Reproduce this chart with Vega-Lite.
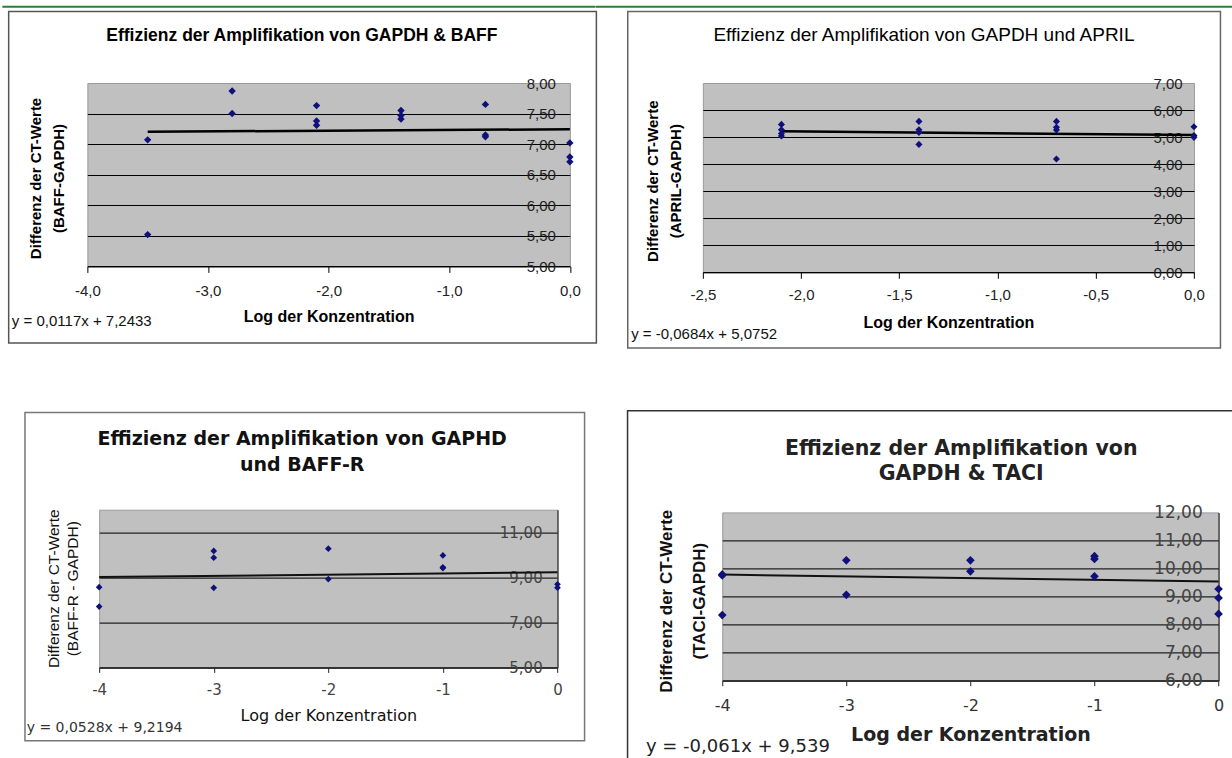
{
  "$schema": "https://vega.github.io/schema/vega-lite/v6.json",
  "padding": {"left": 0, "top": 5, "right": 0, "bottom": 0},
  "background": "white",
  "config": {"font": "Liberation Sans", "view": {"stroke": null}},
  "spacing": -4.6,
  "hconcat": [
    {
      "spacing": 65.7,
      "center": true,
      "vconcat": [
        {
          "width": 482.5, "height": 183.4,
          "view": {"fill": "#c0c0c0", "stroke": "#9a9a9a"},
          "title": {"text": "Effizienz der Amplifikation von GAPDH & BAFF", "font": "Liberation Sans", "fontSize": 17.5, "fontWeight": "bold", "color": "#000000", "anchor": "middle", "frame": "group", "dx": -26.75, "offset": -39.1},
          "layer": [
            {
              "data": {"values": [{"frame": 1}]},
              "mark": {"type": "rect", "fill": "transparent", "stroke": "#555555", "strokeWidth": 1.5},
              "encoding": {
                "x": {"datum": -4.6524, "type": "quantitative", "scale": {"domain": [-4, 0], "nice": false, "zero": false}},
                "x2": {"datum": 0.2197},
                "y": {"datum": 9.1712, "type": "quantitative", "scale": {"domain": [5, 8], "nice": false, "zero": false}},
                "y2": {"datum": 3.747}
              }
            },
            {
              "data": {"values": [{"frame": 1}]},
              "mark": {"type": "rule", "color": "#2e7d32", "strokeWidth": 2},
              "encoding": {
                "x": {"datum": -4.7047, "type": "quantitative", "scale": {"domain": [-4, 0], "nice": false, "zero": false}},
                "x2": {"datum": 0.2093},
                "y": {"datum": 9.2481, "type": "quantitative", "scale": {"domain": [5, 8], "nice": false, "zero": false}}
              }
            },
            {
              "data": {"values": [{"x": -3.5, "y": 7.2024}, {"x": 0, "y": 7.2433}]},
              "mark": {"type": "line", "color": "#000000", "strokeWidth": 2.5},
              "encoding": {
                "x": {"field": "x", "type": "quantitative", "scale": {"domain": [-4, 0], "nice": false, "zero": false}},
                "y": {"field": "y", "type": "quantitative", "scale": {"domain": [5, 8], "nice": false, "zero": false}}
              }
            },
            {
              "data": {"values": [
                {"x": -3.5, "y": 7.07}, {"x": -3.5, "y": 5.52},
                {"x": -2.8, "y": 7.87}, {"x": -2.8, "y": 7.5},
                {"x": -2.1, "y": 7.63}, {"x": -2.1, "y": 7.38}, {"x": -2.1, "y": 7.31},
                {"x": -1.4, "y": 7.55}, {"x": -1.4, "y": 7.47}, {"x": -1.4, "y": 7.41},
                {"x": -0.7, "y": 7.65}, {"x": -0.7, "y": 7.15}, {"x": -0.7, "y": 7.12},
                {"x": 0, "y": 7.02}, {"x": 0, "y": 6.79}, {"x": 0, "y": 6.71}
              ]},
              "mark": {"type": "point", "shape": "diamond", "filled": true, "color": "#10107a", "size": 55, "opacity": 1},
              "encoding": {
                "x": {"field": "x", "type": "quantitative", "scale": {"domain": [-4, 0], "nice": false, "zero": false},
                  "axis": {"orient": "bottom", "values": [-4, -3, -2, -1, 0], "tickCount": 100, "grid": false, "domain": true, "domainColor": "#000000", "domainWidth": 1, "ticks": true, "tickColor": "#000000", "tickSize": 6, "labelPadding": 10.8, "labelFlush": false, "labelOverlap": false, "labelFont": "Liberation Sans", "labelFontSize": 15, "labelColor": "#222222", "labelExpr": "(datum.value < 0 ? '-' : '') + replace(format(abs(datum.value), '.1f'), '.', ',')", "title": "Log der Konzentration", "titleFont": "Liberation Sans", "titleFontSize": 16, "titleFontWeight": "bold", "titleColor": "#000000", "titleY": 42.1, "titleBaseline": "top"}},
                "y": {"field": "y", "type": "quantitative", "scale": {"domain": [5, 8], "nice": false, "zero": false},
                  "axis": {"orient": "right", "values": [5, 5.5, 6, 6.5, 7, 7.5, 8], "tickCount": 100, "grid": true, "gridColor": "#000000", "gridWidth": 1.2, "gridOpacity": {"condition": {"test": "datum.value >= 8", "value": 0}, "value": 1}, "domain": false, "ticks": false, "tickSize": 0, "labelAlign": "right", "labelPadding": -14.5, "labelOverlap": false, "labelFont": "Liberation Sans", "labelFontSize": 15, "labelColor": "#222222", "labelExpr": "replace(format(datum.value, '.2f'), '.', ',')", "title": ["Differenz der CT-Werte", "(BAFF-GAPDH)"], "titleFont": "Liberation Sans", "titleFontSize": 15, "titleFontWeight": "bold", "titleColor": "#000000", "titleAngle": -90, "titleX": -529, "titleY": 95, "titleAlign": "center", "titleBaseline": "alphabetic", "titleLineHeight": 23}}
              }
            },
            {
              "data": {"values": [{"eq": "y = 0,0117x + 7,2433"}]},
              "mark": {"type": "text", "align": "left", "baseline": "middle", "font": "Liberation Sans", "fontSize": 15, "color": "#111111"},
              "encoding": {
                "x": {"datum": -4.626, "type": "quantitative", "scale": {"domain": [-4, 0], "nice": false, "zero": false}},
                "y": {"datum": 4.1, "type": "quantitative", "scale": {"domain": [5, 8], "nice": false, "zero": false}},
                "text": {"field": "eq"}
              }
            }
          ]
        },
        {
          "width": 458.3, "height": 157.7,
          "view": {"fill": "#c0c0c0", "stroke": "#9a9a9a"},
          "title": {"text": ["Effizienz der Amplifikation von GAPHD", "und BAFF-R"], "font": "DejaVu Sans", "fontSize": 19, "fontWeight": "bold", "color": "#111111", "anchor": "middle", "frame": "group", "dx": -26.1, "lineHeight": 26.7, "offset": -63.6},
          "layer": [
            {
              "data": {"values": [{"frame": 1}]},
              "mark": {"type": "rect", "fill": "transparent", "stroke": "#777777", "strokeWidth": 1.5},
              "encoding": {
                "x": {"datum": -4.6476, "type": "quantitative", "scale": {"domain": [-4, 0], "nice": false, "zero": false}},
                "x2": {"datum": 0.2365},
                "y": {"datum": 16.319, "type": "quantitative", "scale": {"domain": [5, 12], "nice": false, "zero": false}},
                "y2": {"datum": 1.7464}
              }
            },
            {
              "data": {"values": [{"x": -4, "y": 9.0082}, {"x": 0, "y": 9.2194}]},
              "mark": {"type": "line", "color": "#111111", "strokeWidth": 2},
              "encoding": {
                "x": {"field": "x", "type": "quantitative", "scale": {"domain": [-4, 0], "nice": false, "zero": false}},
                "y": {"field": "y", "type": "quantitative", "scale": {"domain": [5, 12], "nice": false, "zero": false}}
              }
            },
            {
              "data": {"values": [
                {"x": -4, "y": 8.56}, {"x": -4, "y": 7.7},
                {"x": -3, "y": 10.17}, {"x": -3, "y": 9.87}, {"x": -3, "y": 8.53},
                {"x": -2, "y": 10.27}, {"x": -2, "y": 8.92},
                {"x": -1, "y": 9.97}, {"x": -1, "y": 9.44}, {"x": -1, "y": 9.41},
                {"x": 0, "y": 8.69}, {"x": 0, "y": 8.54}
              ]},
              "mark": {"type": "point", "shape": "diamond", "filled": true, "color": "#10107a", "size": 45, "opacity": 1},
              "encoding": {
                "x": {"field": "x", "type": "quantitative", "scale": {"domain": [-4, 0], "nice": false, "zero": false},
                  "axis": {"orient": "bottom", "values": [-4, -3, -2, -1, 0], "tickCount": 100, "grid": false, "domain": true, "domainColor": "#222222", "domainWidth": 1.2, "ticks": true, "tickColor": "#222222", "tickSize": 5, "labelPadding": 10.2, "labelFlush": false, "labelOverlap": false, "labelFont": "DejaVu Sans", "labelFontSize": 15, "labelColor": "#444444", "labelExpr": "(datum.value < 0 ? '-' : '') + format(abs(datum.value), 'd')", "title": "Log der Konzentration", "titleFont": "DejaVu Sans", "titleFontSize": 16, "titleFontWeight": "normal", "titleColor": "#111111", "titleY": 40.5, "titleBaseline": "top"}},
                "y": {"field": "y", "type": "quantitative", "scale": {"domain": [5, 12], "nice": false, "zero": false},
                  "axis": {"orient": "right", "values": [5, 7, 9, 11], "tickCount": 100, "grid": true, "gridColor": "#222222", "gridWidth": 1.2, "domain": true, "domainColor": "#333333", "domainWidth": 1.2, "ticks": false, "tickSize": 0, "labelAlign": "right", "labelPadding": -15.3, "labelOverlap": false, "labelFont": "DejaVu Sans", "labelFontSize": 15, "labelColor": "#444444", "labelExpr": "replace(format(datum.value, '.2f'), '.', ',')", "title": ["Differenz der CT-Werte", "(BAFF-R - GAPDH)"], "titleFont": "Liberation Sans", "titleFontSize": 15.5, "titleFontWeight": "normal", "titleColor": "#111111", "titleAngle": -90, "titleX": -499.4, "titleY": 78.5, "titleAlign": "center", "titleBaseline": "alphabetic", "titleLineHeight": 19}}
              }
            },
            {
              "data": {"values": [{"eq": "y = 0,0528x + 9,2194"}]},
              "mark": {"type": "text", "align": "left", "baseline": "middle", "font": "DejaVu Sans", "fontSize": 14, "color": "#333333"},
              "encoding": {
                "x": {"datum": -4.6328, "type": "quantitative", "scale": {"domain": [-4, 0], "nice": false, "zero": false}},
                "y": {"datum": 2.31, "type": "quantitative", "scale": {"domain": [5, 12], "nice": false, "zero": false}},
                "text": {"field": "eq"}
              }
            }
          ]
        }
      ]
    },
    {
      "spacing": 59.4,
      "center": true,
      "vconcat": [
        {
          "width": 491.1, "height": 189.3,
          "view": {"fill": "#c0c0c0", "stroke": "#9a9a9a"},
          "title": {"text": "Effizienz der Amplifikation von GAPDH und APRIL", "font": "Liberation Sans", "fontSize": 19, "fontWeight": "normal", "color": "#000000", "anchor": "middle", "frame": "group", "dx": -24.45, "offset": -39},
          "layer": [
            {
              "data": {"values": [{"frame": 1}]},
              "mark": {"type": "rect", "fill": "transparent", "stroke": "#666666", "strokeWidth": 1.5},
              "encoding": {
                "x": {"datum": -2.8823, "type": "quantitative", "scale": {"domain": [-2.5, 0], "nice": false, "zero": false}},
                "x2": {"datum": 0.1349},
                "y": {"datum": 9.6476, "type": "quantitative", "scale": {"domain": [0, 7], "nice": false, "zero": false}},
                "y2": {"datum": -2.7992}
              }
            },
            {
              "data": {"values": [{"frame": 1}]},
              "mark": {"type": "rule", "color": "#2e7d32", "strokeWidth": 2},
              "encoding": {
                "x": {"datum": -3.0467, "type": "quantitative", "scale": {"domain": [-2.5, 0], "nice": false, "zero": false}},
                "x2": {"datum": 0.3996},
                "y": {"datum": 9.8214, "type": "quantitative", "scale": {"domain": [0, 7], "nice": false, "zero": false}}
              }
            },
            {
              "data": {"values": [{"x": -2.1, "y": 5.2188}, {"x": 0, "y": 5.0752}]},
              "mark": {"type": "line", "color": "#000000", "strokeWidth": 2.5},
              "encoding": {
                "x": {"field": "x", "type": "quantitative", "scale": {"domain": [-2.5, 0], "nice": false, "zero": false}},
                "y": {"field": "y", "type": "quantitative", "scale": {"domain": [0, 7], "nice": false, "zero": false}}
              }
            },
            {
              "data": {"values": [
                {"x": -2.1, "y": 5.47}, {"x": -2.1, "y": 5.27}, {"x": -2.1, "y": 5.13}, {"x": -2.1, "y": 5.04},
                {"x": -1.4, "y": 5.58}, {"x": -1.4, "y": 5.27}, {"x": -1.4, "y": 5.17}, {"x": -1.4, "y": 4.73},
                {"x": -0.7, "y": 5.58}, {"x": -0.7, "y": 5.36}, {"x": -0.7, "y": 5.26}, {"x": -0.7, "y": 4.19},
                {"x": 0, "y": 5.38}, {"x": 0, "y": 5.06}, {"x": 0, "y": 4.99}
              ]},
              "mark": {"type": "point", "shape": "diamond", "filled": true, "color": "#10107a", "size": 50, "opacity": 1},
              "encoding": {
                "x": {"field": "x", "type": "quantitative", "scale": {"domain": [-2.5, 0], "nice": false, "zero": false},
                  "axis": {"orient": "bottom", "values": [-2.5, -2, -1.5, -1, -0.5, 0], "tickCount": 100, "grid": false, "domain": true, "domainColor": "#000000", "domainWidth": 1, "ticks": true, "tickColor": "#000000", "tickSize": 6, "labelPadding": 9.2, "labelFlush": false, "labelOverlap": false, "labelFont": "Liberation Sans", "labelFontSize": 15, "labelColor": "#222222", "labelExpr": "(datum.value < 0 ? '-' : '') + replace(format(abs(datum.value), '.1f'), '.', ',')", "title": "Log der Konzentration", "titleFont": "Liberation Sans", "titleFontSize": 16, "titleFontWeight": "bold", "titleColor": "#000000", "titleY": 42.2, "titleBaseline": "top"}},
                "y": {"field": "y", "type": "quantitative", "scale": {"domain": [0, 7], "nice": false, "zero": false},
                  "axis": {"orient": "right", "values": [0, 1, 2, 3, 4, 5, 6, 7], "tickCount": 100, "grid": true, "gridColor": "#000000", "gridWidth": 1.2, "gridOpacity": {"condition": {"test": "datum.value >= 7", "value": 0}, "value": 1}, "domain": false, "ticks": false, "tickSize": 0, "labelAlign": "right", "labelPadding": -11.8, "labelOverlap": false, "labelFont": "Liberation Sans", "labelFontSize": 15, "labelColor": "#222222", "labelExpr": "replace(format(datum.value, '.2f'), '.', ',')", "title": ["Differenz der CT-Werte", "(APRIL-GAPDH)"], "titleFont": "Liberation Sans", "titleFontSize": 15, "titleFontWeight": "bold", "titleColor": "#000000", "titleAngle": -90, "titleX": -536, "titleY": 97.7, "titleAlign": "center", "titleBaseline": "alphabetic", "titleLineHeight": 22.5}}
              }
            },
            {
              "data": {"values": [{"eq": "y = -0,0684x + 5,0752"}]},
              "mark": {"type": "text", "align": "left", "baseline": "middle", "font": "Liberation Sans", "fontSize": 15, "color": "#111111"},
              "encoding": {
                "x": {"datum": -2.865, "type": "quantitative", "scale": {"domain": [-2.5, 0], "nice": false, "zero": false}},
                "y": {"datum": -2.2816, "type": "quantitative", "scale": {"domain": [0, 7], "nice": false, "zero": false}},
                "text": {"field": "eq"}
              }
            }
          ]
        },
        {
          "width": 496.3, "height": 168.3,
          "view": {"fill": "#c0c0c0", "stroke": "#9a9a9a"},
          "title": {"text": ["Effizienz der Amplifikation von", "GAPDH & TACI"], "font": "DejaVu Sans", "fontSize": 20.5, "fontWeight": "bold", "color": "#222222", "anchor": "middle", "frame": "group", "dx": -9.15, "lineHeight": 25, "offset": -74.55},
          "layer": [
            {
              "data": {"values": [{"frame": 1}]},
              "mark": {"type": "rect", "fill": "transparent", "stroke": "#333333", "strokeWidth": 1.5},
              "encoding": {
                "x": {"datum": -4.7632, "type": "quantitative", "scale": {"domain": [-4, 0], "nice": false, "zero": false}},
                "x2": {"datum": 0.2801},
                "y": {"datum": 15.6257, "type": "quantitative", "scale": {"domain": [6, 12], "nice": false, "zero": false}},
                "y2": {"datum": 2.7914}
              }
            },
            {
              "data": {"values": [{"x": -4, "y": 9.783}, {"x": 0, "y": 9.539}]},
              "mark": {"type": "line", "color": "#111111", "strokeWidth": 2},
              "encoding": {
                "x": {"field": "x", "type": "quantitative", "scale": {"domain": [-4, 0], "nice": false, "zero": false}},
                "y": {"field": "y", "type": "quantitative", "scale": {"domain": [6, 12], "nice": false, "zero": false}}
              }
            },
            {
              "data": {"values": [
                {"x": -4, "y": 9.79}, {"x": -4, "y": 9.75}, {"x": -4, "y": 8.34},
                {"x": -3, "y": 10.29}, {"x": -3, "y": 9.06},
                {"x": -2, "y": 10.29}, {"x": -2, "y": 9.9},
                {"x": -1, "y": 10.44}, {"x": -1, "y": 10.34}, {"x": -1, "y": 9.72},
                {"x": 0, "y": 9.27}, {"x": 0, "y": 8.95}, {"x": 0, "y": 8.38}
              ]},
              "mark": {"type": "point", "shape": "diamond", "filled": true, "color": "#10107a", "size": 75, "opacity": 1},
              "encoding": {
                "x": {"field": "x", "type": "quantitative", "scale": {"domain": [-4, 0], "nice": false, "zero": false},
                  "axis": {"orient": "bottom", "values": [-4, -3, -2, -1, 0], "tickCount": 100, "grid": false, "domain": true, "domainColor": "#222222", "domainWidth": 1.2, "ticks": true, "tickColor": "#222222", "tickSize": 5, "labelPadding": 12, "labelFlush": false, "labelOverlap": false, "labelFont": "DejaVu Sans", "labelFontSize": 16, "labelColor": "#333333", "labelExpr": "(datum.value < 0 ? '-' : '') + format(abs(datum.value), 'd')", "title": "Log der Konzentration", "titleFont": "DejaVu Sans", "titleFontSize": 19, "titleFontWeight": "bold", "titleColor": "#222222", "titleY": 44.8, "titleBaseline": "top"}},
                "y": {"field": "y", "type": "quantitative", "scale": {"domain": [6, 12], "nice": false, "zero": false},
                  "axis": {"orient": "right", "values": [6, 7, 8, 9, 10, 11, 12], "tickCount": 100, "grid": true, "gridColor": "#222222", "gridWidth": 1.2, "gridOpacity": {"condition": {"test": "datum.value >= 12", "value": 0}, "value": 1}, "domain": true, "domainColor": "#333333", "domainWidth": 1.2, "ticks": false, "tickSize": 0, "labelAlign": "right", "labelPadding": -16.3, "labelOverlap": false, "labelFont": "DejaVu Sans", "labelFontSize": 17, "labelColor": "#444444", "labelExpr": "replace(format(datum.value, '.2f'), '.', ',')", "title": ["Differenz der CT-Werte", "(TACI-GAPDH)"], "titleFont": "Liberation Sans", "titleFontSize": 17, "titleFontWeight": "bold", "titleColor": "#111111", "titleAngle": -90, "titleX": -547.3, "titleY": 88.3, "titleAlign": "center", "titleBaseline": "alphabetic", "titleLineHeight": 33}}
              }
            },
            {
              "data": {"values": [{"eq": "y = -0,061x + 9,539"}]},
              "mark": {"type": "text", "align": "left", "baseline": "middle", "font": "DejaVu Sans", "fontSize": 18, "color": "#222222"},
              "encoding": {
                "x": {"datum": -4.615, "type": "quantitative", "scale": {"domain": [-4, 0], "nice": false, "zero": false}},
                "y": {"datum": 3.647, "type": "quantitative", "scale": {"domain": [6, 12], "nice": false, "zero": false}},
                "text": {"field": "eq"}
              }
            }
          ]
        }
      ]
    }
  ]
}
